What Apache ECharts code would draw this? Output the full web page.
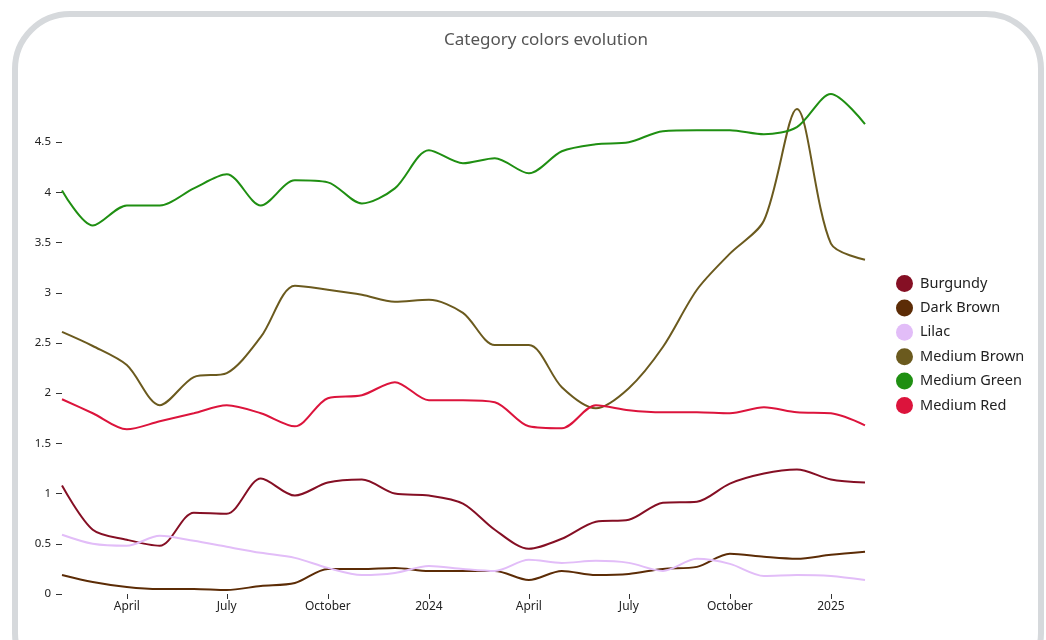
<!DOCTYPE html>
<html>
<head>
<meta charset="utf-8">
<script src="https://cdn.jsdelivr.net/npm/echarts@6/dist/echarts.min.js"></script>
<style>
  html, body { margin: 0; padding: 0; background: #fff; width: 1046px; height: 640px; overflow: hidden; }
  #frame { position: absolute; left: 12px; top: 11px; width: 1032px; height: 680px; box-sizing: border-box;
           border: 6px solid #d6d9dc; border-radius: 58px; }
  #chart { position: absolute; left: 0; top: 0; width: 1046px; height: 640px; }
</style>
</head>
<body>
<div id="frame"></div>
<div id="chart"></div>
<script>
const months = ["2023-02-01","2023-03-01","2023-04-01","2023-05-01","2023-06-01","2023-07-01","2023-08-01","2023-09-01","2023-10-01","2023-11-01","2023-12-01",
  "2024-01-01","2024-02-01","2024-03-01","2024-04-01","2024-05-01","2024-06-01","2024-07-01","2024-08-01","2024-09-01","2024-10-01","2024-11-01","2024-12-01",
  "2025-01-01","2025-02-01"];

const seriesNames = ["Burgundy","Dark Brown","Lilac","Medium Brown","Medium Green","Medium Red"];
const seriesColors = ["#850f24","#5c2c06","#e2bdf8","#6b5a1e","#1f8f12","#dc143c"];

const burgundy    = [1.08,0.64,0.54,0.48,0.81,0.80,1.15,0.98,1.11,1.14,1.00,0.98,0.90,0.64,0.45,0.55,0.72,0.74,0.91,0.92,1.10,1.20,1.24,1.14,1.11];
const darkBrown   = [0.19,0.12,0.07,0.05,0.05,0.04,0.08,0.11,0.25,0.25,0.26,0.23,0.23,0.23,0.14,0.23,0.19,0.20,0.25,0.27,0.40,0.37,0.35,0.39,0.42];
const lilac       = [0.59,0.50,0.48,0.58,0.53,0.47,0.41,0.36,0.26,0.19,0.21,0.28,0.25,0.23,0.34,0.31,0.33,0.31,0.23,0.35,0.30,0.18,0.19,0.18,0.14];
const mediumBrown = [2.61,2.47,2.28,1.88,2.16,2.20,2.56,3.07,3.03,2.98,2.91,2.93,2.80,2.48,2.48,2.06,1.85,2.05,2.46,3.03,3.39,3.72,4.83,3.49,3.33];
const mediumGreen = [4.02,3.67,3.87,3.87,4.04,4.18,3.87,4.12,4.10,3.89,4.04,4.42,4.29,4.34,4.19,4.41,4.48,4.50,4.61,4.62,4.62,4.58,4.65,4.98,4.68];
const mediumRed   = [1.94,1.80,1.64,1.72,1.80,1.88,1.80,1.67,1.95,1.98,2.11,1.93,1.93,1.91,1.67,1.65,1.88,1.83,1.81,1.81,1.80,1.86,1.81,1.80,1.68];

const yTicks = [0,0.5,1,1.5,2,2.5,3,3.5,4,4.5];
const xTickDates = ["2023-04-01","2023-07-01","2023-10-01","2024-01-01","2024-04-01","2024-07-01","2024-10-01","2025-01-01"];
const xTickLabels = ["April","July","October","2024","April","July","October","2025"];

const allValues = [burgundy, darkBrown, lilac, mediumBrown, mediumGreen, mediumRed];
const yMax = Math.max(...allValues.flat());

const toTime = d => Date.UTC(+d.slice(0,4), +d.slice(5,7) - 1, +d.slice(8,10));
const xTickTimes = xTickDates.map(toTime);
const monthTimes = months.map(toTime);

const chart = echarts.init(document.getElementById('chart'), null, { renderer: 'canvas' });

const series = seriesNames.map((name, i) => ({
  name: name,
  type: 'line',
  data: monthTimes.map((t, j) => [t, allValues[i][j]]),
  smooth: 0.3,
  showSymbol: false,
  symbol: 'none',
  lineStyle: { width: 2, color: seriesColors[i] },
  itemStyle: { color: seriesColors[i] },
  emphasis: { disabled: true }
}));

chart.setOption({
  animation: false,
  title: {
    text: 'Category colors evolution',
    left: 546,
    top: 32,
    textAlign: 'center',
    padding: 0,
    textStyle: { fontFamily: 'Noto Sans', fontSize: 17, fontWeight: 'normal', color: '#555' }
  },
  legend: {
    orient: 'vertical',
    left: 896,
    top: 275,
    padding: 0,
    icon: 'circle',
    itemWidth: 17,
    itemHeight: 17,
    itemGap: 7.4,
    data: seriesNames,
    textStyle: { fontFamily: 'Noto Sans', fontSize: 14.5, color: '#222', padding: [0, 0, 0, 2] }
  },
  grid: { left: 62, right: 181, top: 94, bottom: 46, containLabel: false },
  xAxis: {
    type: 'value',
    min: monthTimes[0],
    max: monthTimes[monthTimes.length - 1],
    axisLine: { show: false },
    splitLine: { show: false },
    axisTick: { show: true, length: 5, lineStyle: { color: '#333', width: 1 }, customValues: xTickTimes },
    axisLabel: {
      customValues: xTickTimes,
      margin: 7,
      fontFamily: 'Noto Sans', fontSize: 12, color: '#222',
      formatter: function (v) {
        const idx = xTickTimes.indexOf(v);
        return idx >= 0 ? xTickLabels[idx] : '';
      }
    }
  },
  yAxis: {
    type: 'value',
    min: 0,
    max: yMax,
    axisLine: { show: false },
    splitLine: { show: false },
    axisTick: { show: true, length: 6, lineStyle: { color: '#333', width: 1 }, customValues: yTicks },
    axisLabel: { customValues: yTicks, margin: 11, fontFamily: 'Noto Sans', fontSize: 11.5, color: '#222' }
  },
  series: series
});
</script>
</body>
</html>
